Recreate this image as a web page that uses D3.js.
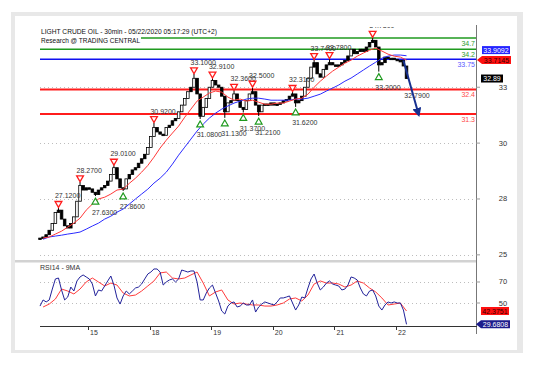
<!DOCTYPE html>
<html><head><meta charset="utf-8">
<script src="https://cdn.jsdelivr.net/npm/d3@7"></script>
<style>body{margin:0;background:#fff;} svg{display:block;font-family:"Liberation Sans",Arial,sans-serif;}</style>
</head><body><svg id="c" width="533" height="369"></svg>
<script>
// ---------- data ----------
const titleLine1 = "LIGHT CRUDE OIL - 30min - 05/22/2020 05:17:29 (UTC+2)";
const titleLine2 = "Research @ TRADING CENTRAL";
const rsiTitle = "RSI14 - 9MA";
const dayLabels = ["15","18","19","20","21","22"];
const dayTickIdx = [15.6,35.6,55.6,75.6,95.6,115.6];
const priceTicks = [25,27.5,30,32.5];
const priceTickLabels = ["25","28","30","33"];
const rsiTicks = [50,70];
const rsiTickLabels = ["50","70"];

const closes = [
 25.75,25.8,25.9,26.1,26.4,26.9,27.0,26.6,26.3,26.2,
 26.4,26.7,27.4,28.1,27.9,28.0,27.95,27.8,27.7,27.9,
 28.0,28.1,28.3,28.6,28.9,28.4,28.0,27.95,28.4,28.6,
 28.8,28.9,29.1,29.3,29.5,29.8,30.3,30.7,30.5,30.4,
 30.35,30.7,30.8,31.0,31.1,31.4,31.7,32.0,32.3,32.5,
 32.9,32.2,31.2,31.6,32.0,32.5,32.8,32.6,32.5,32.1,
 31.4,31.8,31.9,32.2,31.9,31.6,31.5,31.9,32.2,32.3,
 31.7,31.4,31.7,31.75,31.7,31.8,31.7,31.75,31.8,31.9,
 31.95,32.1,32.2,31.8,31.9,32.1,32.5,32.9,33.4,33.6,
 33.1,32.95,33.3,33.5,33.6,33.5,33.45,33.5,33.6,33.7,
 33.9,34.2,34.0,34.1,34.2,34.1,34.3,34.5,34.6,34.3,
 33.5,33.6,33.85,33.8,33.8,33.75,33.7,33.7,33.45,32.89];

const maFast = [
 25.75,25.8,25.93,26.06,26.24,26.42,26.64,27.0,27.27,27.5,
 27.58,27.72,27.9,27.94,28.2,28.43,28.7,29.0,29.37,29.78,
 30.13,30.45,30.76,31.16,31.52,31.88,32.06,32.24,32.33,32.28,
 32.06,31.92,31.97,31.88,31.92,31.83,31.74,31.74,31.79,31.79,
 31.88,31.97,32.01,32.19,32.5,32.77,33.0,33.22,33.4,33.58,
 33.71,33.89,34.03,34.16,34.25,34.12,33.98,33.89,33.85,33.7145];

const maSlow = [
 25.7,25.8,25.84,25.88,25.93,25.97,26.02,26.15,26.29,26.42,
 26.6,26.73,26.91,27.05,27.27,27.5,27.72,27.94,28.21,28.43,
 28.7,29.06,29.46,29.82,30.18,30.54,30.85,31.12,31.34,31.52,
 31.66,31.79,31.88,31.97,32.01,32.01,31.97,31.92,31.92,31.92,
 31.92,31.97,31.97,32.01,32.1,32.19,32.33,32.46,32.6,32.77,
 32.91,33.09,33.27,33.45,33.62,33.8,33.89,33.94,33.94,33.9092];

const rsi = [
 47.1,52.9,51.0,52.9,63.3,72.9,73.8,62.4,52.9,55.7,
 65.2,61.4,71.0,74.8,76.7,74.8,72.9,68.1,56.7,62.4,
 61.4,66.2,71.0,75.7,67.1,54.8,49.0,56.7,61.4,58.6,
 61.4,64.3,65.2,68.1,72.9,77.6,79.5,82.4,82.4,79.5,
 67.1,70.0,71.9,72.9,70.0,72.9,81.4,80.5,79.5,80.5,
 80.5,70.0,52.9,52.9,59.5,64.3,67.1,59.5,51.9,42.4,
 39.5,47.1,50.0,51.0,46.2,47.1,50.0,48.1,48.1,52.9,
 41.4,46.2,49.0,51.0,50.0,49.0,48.1,51.0,54.8,54.8,
 55.7,56.7,50.0,43.3,48.1,55.7,54.8,64.3,72.9,77.6,
 69.0,62.4,65.2,69.0,71.0,68.1,67.1,66.2,62.4,63.3,
 67.1,74.8,73.8,71.9,64.3,58.6,56.7,61.4,62.4,56.7,
 47.1,43.3,48.1,51.0,50.0,51.0,50.0,50.0,43.3,29.6808];

const rsiMA = [
 46.2,49.0,53.8,63.3,61.4,58.6,63.3,70.0,73.8,70.0,
 66.2,69.0,67.1,59.5,56.7,57.6,61.4,66.2,71.0,78.6,
 79.5,73.8,72.9,73.8,76.7,79.5,69.0,56.7,60.5,62.4,
 52.9,49.0,50.0,49.0,48.1,48.1,47.1,47.1,48.1,50.0,
 53.8,54.8,51.9,57.6,68.1,71.0,69.0,69.0,68.1,65.2,
 67.1,71.0,69.0,64.3,60.5,54.8,48.1,49.0,50.0,42.3751];

const levelValues = [34.7,34.2,33.75,32.4,31.3];
const levelLabels = ["34.7","34.2","33.75","32.4","31.3"];
const levelKinds  = ["res","res","pivot","sup","sup"];

const resIdx = [6,13,24,37,50,56,63,69,82,89,94,108];
const resVal = [27.12,28.27,29.01,30.92,33.10,32.91,32.36,32.50,32.31,33.74,33.78,34.73];
const supIdx = [18,27,52,60,66,71,83,110];
const supVal = [27.63,27.86,31.08,31.13,31.37,31.21,31.62,33.20];

const arrowIdx = [118,123];
const arrowVal = [33.7,31.25];
const targetLabel = "32.7900";
const targetIdx = 118.3, targetVal = 32.0;

// ---------- drawing ----------
const svg = d3.select("#c");
svg.append("rect").attr("x",11).attr("y",12).attr("width",512).attr("height",341).attr("fill","#e8e8e8");
svg.append("rect").attr("x",15).attr("y",16).attr("width",502).attr("height",334).attr("fill","#fff");

const x  = d3.scaleLinear().domain([0,141.56]).range([40,476]);
const yP = d3.scaleLinear().domain([24.68,35.24]).range([262,26]);
const yR = d3.scaleLinear().domain([28.1,87.14]).range([326,264]);

const defs = svg.append("defs");
defs.append("clipPath").attr("id","pclip").append("rect").attr("x",36).attr("y",27).attr("width",441).attr("height",233);
defs.append("clipPath").attr("id","rclip").append("rect").attr("x",36).attr("y",263).attr("width",441).attr("height",64);
defs.append("marker").attr("id","arr").attr("viewBox","0 0 10 10").attr("refX",8).attr("refY",5)
  .attr("markerWidth",4.5).attr("markerHeight",4.5).attr("orient","auto")
  .append("path").attr("d","M0,0 L10,5 L0,10 z").attr("fill","#17308f");

const FS = 7;
// grid
svg.append("g").selectAll("line").data(priceTicks).join("line")
  .attr("x1",40).attr("x2",476).attr("y1",d=>Math.round(yP(d))+0.5).attr("y2",d=>Math.round(yP(d))+0.5)
  .attr("stroke","#bdbdbd").attr("stroke-dasharray","1,3");
svg.append("g").selectAll("line").data(rsiTicks).join("line")
  .attr("x1",40).attr("x2",476).attr("y1",d=>Math.round(yR(d))+0.5).attr("y2",d=>Math.round(yR(d))+0.5)
  .attr("stroke","#bdbdbd").attr("stroke-dasharray","1,3");

// separator
svg.append("rect").attr("x",15).attr("y",260).attr("width",462).attr("height",2.5).attr("fill","#d2d2d2");

// axes
svg.append("line").attr("x1",476.5).attr("x2",476.5).attr("y1",25).attr("y2",334).attr("stroke","#777");
svg.append("line").attr("x1",40).attr("x2",477).attr("y1",326.5).attr("y2",326.5).attr("stroke","#333");
svg.append("g").selectAll("line").data(priceTicks).join("line")
  .attr("x1",476).attr("x2",480).attr("y1",d=>yP(d)).attr("y2",d=>yP(d)).attr("stroke","#999");
svg.append("g").selectAll("line").data(rsiTicks).join("line")
  .attr("x1",476).attr("x2",480).attr("y1",d=>yR(d)).attr("y2",d=>yR(d)).attr("stroke","#999");
svg.append("g").selectAll("text").data(priceTicks).join("text")
  .attr("x",503).attr("y",d=>yP(d)+2.5).attr("text-anchor","middle").attr("font-size",7.5).attr("fill","#333")
  .text((d,i)=>priceTickLabels[i]);
svg.append("g").selectAll("text").data(rsiTicks).join("text")
  .attr("x",503).attr("y",d=>yR(d)+2.5).attr("text-anchor","middle").attr("font-size",7.5).attr("fill","#333")
  .text((d,i)=>rsiTickLabels[i]);
svg.append("g").selectAll("line").data(dayTickIdx).join("line")
  .attr("x1",d=>Math.round(x(d))+0.5).attr("x2",d=>Math.round(x(d))+0.5).attr("y1",326).attr("y2",330).attr("stroke","#333");
svg.append("g").selectAll("text").data(dayTickIdx).join("text")
  .attr("x",d=>x(d)+2).attr("y",334.5).attr("font-size",FS).attr("fill","#333").text((d,i)=>dayLabels[i]);

// price panel
const pg = svg.append("g").attr("clip-path","url(#pclip)");
const lvlColor = {res:"#1f9a1f",pivot:"#1010f0",sup:"#ff1c1c"};
const lvlText  = {res:"#2e9e2e",pivot:"#5a5aff",sup:"#ff4a4a"};
const lvlW = {res:1.6,pivot:1.4,sup:2};
levelValues.forEach((v,k)=>{
  pg.append("line").attr("x1",40).attr("x2",476).attr("y1",yP(v)).attr("y2",yP(v))
    .attr("stroke",lvlColor[levelKinds[k]]).attr("stroke-width",lvlW[levelKinds[k]]);
  pg.append("text").attr("x",475).attr("y",yP(v)+7.5).attr("text-anchor","end").attr("font-size",FS)
    .attr("fill",lvlText[levelKinds[k]]).text(levelLabels[k]);
});

// candles
const bars = closes.map((c,i)=>{const o = i? closes[i-1] : c; return {i,o,c,h:Math.max(o,c),l:Math.min(o,c)};});
resIdx.forEach((ri,k)=>{bars[ri].h = Math.max(bars[ri].h,resVal[k]);});
supIdx.forEach((si,k)=>{bars[si].l = Math.min(bars[si].l,supVal[k]);});
pg.append("g").selectAll("line").data(bars).join("line")
  .attr("x1",d=>x(d.i)).attr("x2",d=>x(d.i)).attr("y1",d=>yP(d.h)).attr("y2",d=>yP(d.l))
  .attr("stroke","#000").attr("stroke-width",1);
pg.append("g").selectAll("rect").data(bars).join("rect")
  .attr("x",d=>x(d.i)-1.3).attr("width",2.6)
  .attr("y",d=>yP(Math.max(d.o,d.c))).attr("height",d=>Math.max(1.5,Math.abs(yP(d.o)-yP(d.c))))
  .attr("fill",d=>(d.c>d.o && Math.abs(yP(d.o)-yP(d.c))>6)?"#fff":"#000").attr("stroke","#000").attr("stroke-width",0.8);

// moving averages
const maLine = d3.line().x((d,j)=>x(1+2*j)).y(d=>yP(d));
pg.append("path").attr("d",maLine(maSlow)).attr("fill","none").attr("stroke","#2b2bff").attr("stroke-width",1);
pg.append("path").attr("d",maLine(maFast)).attr("fill","none").attr("stroke","#ff3838").attr("stroke-width",1);

// pivots
const tri = d3.symbol().type(d3.symbolTriangle).size(20);
resIdx.forEach((ri,k)=>{
  const cx = x(ri), cy = yP(resVal[k]) - 4;
  pg.append("path").attr("d",tri()).attr("transform",`translate(${cx},${cy}) rotate(180)`)
    .attr("fill","#fff").attr("stroke","#ff1c1c").attr("stroke-width",1.3);
  pg.append("text").attr("x",cx-3.5).attr("y",cy-5).attr("font-size",FS).attr("fill","#333").text(resVal[k].toFixed(4));
});
supIdx.forEach((si,k)=>{
  const cx = x(si), cy = yP(supVal[k]) + 6;
  pg.append("path").attr("d",tri()).attr("transform",`translate(${cx},${cy})`)
    .attr("fill","#fff").attr("stroke","#1f9a1f").attr("stroke-width",1.2);
  pg.append("text").attr("x",cx-3.5).attr("y",cy+12.5).attr("font-size",FS).attr("fill","#333").text(supVal[k].toFixed(4));
});

// projection arrow
pg.append("line").attr("x1",x(arrowIdx[0])).attr("y1",yP(arrowVal[0])).attr("x2",x(arrowIdx[1])).attr("y2",yP(arrowVal[1]))
  .attr("stroke","#17308f").attr("stroke-width",2).attr("marker-end","url(#arr)");
pg.append("text").attr("x",x(targetIdx)).attr("y",yP(targetVal)).attr("font-size",FS).attr("fill","#333").text(targetLabel);

// title
svg.append("rect").attr("x",39).attr("y",35.5).attr("width",102).attr("height",8.5).attr("fill","#fff");
svg.append("text").attr("x",41).attr("y",34).attr("font-size",7.5).attr("fill","#111")
  .attr("textLength",176).attr("lengthAdjust","spacingAndGlyphs").text(titleLine1);
svg.append("text").attr("x",41).attr("y",42.7).attr("font-size",7.5).attr("fill","#111")
  .attr("textLength",99).attr("lengthAdjust","spacingAndGlyphs").text(titleLine2);

// RSI panel
const rg = svg.append("g").attr("clip-path","url(#rclip)");
rg.append("path").attr("d",d3.line().x((d,j)=>x(1+2*j)).y(d=>yR(d))(rsiMA)).attr("fill","none").attr("stroke","#ff3b3b").attr("stroke-width",1);
rg.append("path").attr("d",d3.line().x((d,i)=>x(i)).y(d=>yR(d))(rsi)).attr("fill","none").attr("stroke","#22229a").attr("stroke-width",1);
svg.append("text").attr("x",40).attr("y",270).attr("font-size",FS).attr("fill","#333").text(rsiTitle);

// value tags
function tag(x0,w,yc,txt,fill,tc,pointer){
  const h=8;
  if(pointer){
    svg.append("path").attr("d",`M${x0},${yc} L${x0+5},${yc-h/2} L${x0+w},${yc-h/2} L${x0+w},${yc+h/2} L${x0+5},${yc+h/2} Z`).attr("fill",fill);
    svg.append("text").attr("x",x0+5+(w-5)/2).attr("y",yc+2.5).attr("text-anchor","middle").attr("font-size",FS).attr("fill",tc).text(txt);
  } else {
    svg.append("rect").attr("x",x0).attr("y",yc-h/2).attr("width",w).attr("height",h).attr("fill",fill);
    svg.append("text").attr("x",x0+w/2).attr("y",yc+2.5).attr("text-anchor","middle").attr("font-size",FS).attr("fill",tc).text(txt);
  }
}
const lastFast = maFast[maFast.length-1], lastSlow = maSlow[maSlow.length-1], lastClose = closes[closes.length-1];
const yFast = yP(lastFast);
const ySlow = Math.min(yP(lastSlow), yFast-10);
tag(482,28,ySlow,lastSlow.toFixed(4),"#2424ff","#fff",false);
tag(477,34,yFast,lastFast.toFixed(4),"#ff1010","#300",true);
tag(481,22,yP(lastClose),lastClose.toFixed(2),"#000","#fff",false);
const lastRsi = rsi[rsi.length-1], lastRsiMA = rsiMA[rsiMA.length-1];
tag(481,28,yR(lastRsiMA),lastRsiMA.toFixed(4),"#ff1010","#300",false);
tag(476,34,yR(lastRsi),lastRsi.toFixed(4),"#1c1c8c","#fff",true);
</script></body></html>
